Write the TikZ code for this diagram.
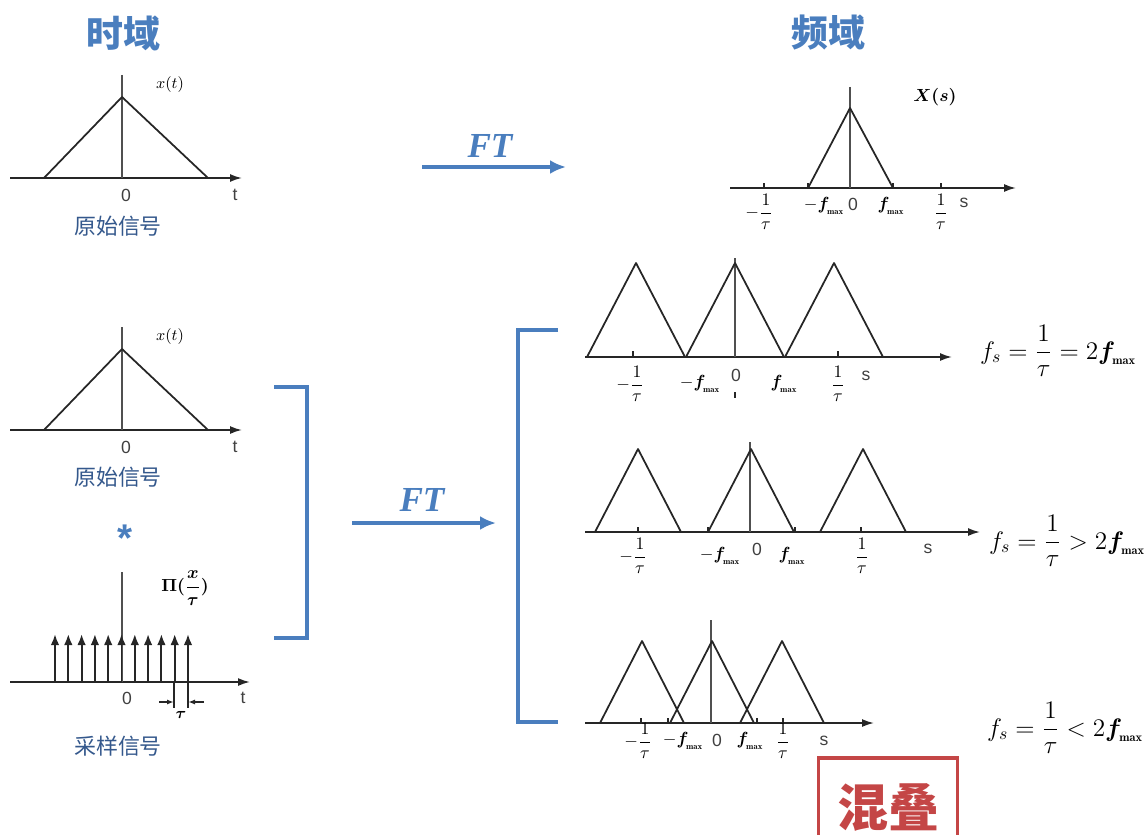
\documentclass[tikz,border=0pt]{standalone}
\usepackage{amsmath,amssymb}
\usepackage{fontspec}
\usepackage{xcolor}
\usepackage{tikz}
\usetikzlibrary{arrows.meta,positioning}
\newfontfamily\cjkfont{Noto Sans CJK SC}
\newfontfamily\axisfont{Liberation Sans}
\newfontfamily\ftfont{Liberation Serif}
\definecolor{sigblue}{RGB}{74,126,190}
\definecolor{sigcap}{RGB}{52,88,140}
\definecolor{sigred}{RGB}{196,70,70}
\definecolor{siggray}{RGB}{80,80,80}
\tikzset{
  plotaxis/.style={-{Latex[length=2.4mm,width=1.6mm]}, line width=1pt, draw=black!85},
  vaxis/.style={line width=0.9pt, draw=siggray},
  tri/.style={line width=1pt, draw=black!85, line join=round},
  tickmark/.style={line width=0.8pt, draw=black!85},
  spike/.style={-{Latex[length=2.2mm,width=1.7mm]}, line width=1.1pt, draw=black!85},
  ftarrow/.style={-{Latex[length=3.2mm,width=2.8mm]}, line width=2pt, draw=sigblue},
  bracket/.style={line width=2pt, draw=sigblue},
  title/.style={font=\cjkfont\bfseries\fontsize{21}{24}\selectfont, text=sigblue},
  caption/.style={font=\cjkfont\fontsize{12.5}{15}\selectfont, text=sigcap},
  ftlab/.style={font=\ftfont\bfseries\itshape\fontsize{20}{24}\selectfont, text=sigblue},
  ticklab/.style={font=\axisfont\fontsize{10}{12}\selectfont, text=black!75},
  mathlab/.style={font=\fontsize{9}{11}\selectfont},
  fraclab/.style={font=\fontsize{10}{12}\selectfont, inner sep=0pt},
  formula/.style={font=\fontsize{14}{16}\selectfont},
  aliasbox/.style={draw=sigred, line width=2pt, text=sigred, minimum width=27.8mm,
    minimum height=20mm, font=\cjkfont\bfseries\fontsize{29}{32}\selectfont},
}
\newcommand{\fmx}{\boldsymbol{f}_{\!\scriptscriptstyle\mathbf{max}}}

\begin{document}
\begin{tikzpicture}[x=0.2mm, y=-0.2mm]
  \useasboundingbox (0,0) rectangle (1148,834);

  % headings
  \node[title] (timehd) at (123,33) {时域};
  \node[title] (freqhd) at (828,33) {频域};

  % original signal, top
  \draw[plotaxis] (10,178) -- (242,178);
  \draw[vaxis] (122,75) -- (122,178);
  \draw[tri] (44,178) -- (122,97) -- (208,178);
  \node[mathlab] (xt1) at (170,85) {$x(t)$};
  \node[ticklab] (zero1) at (126,195) {0};
  \node[ticklab] (t1) at (235,195) {t};
  \node[caption] (cap1) at (118,226) {原始信号};

  % FT, top
  \coordinate (ftA) at (422,167);
  \coordinate (ftB) at (566,167);
  \draw[ftarrow] (ftA) -- (ftB);
  \node[ftlab] (ft1) at (490,146) {FT};

  % spectrum X(s)
  \draw[plotaxis] (730,188) -- (1016,188);
  \draw[vaxis] (850,87) -- (850,188);
  \draw[tri] (808,188) -- (850,108) -- (893,188);
  \foreach \x in {764,808,893,941} {
    \draw[tickmark] (\x,188) -- (\x,183);
  }
  \node[mathlab, font=\bfseries\fontsize{10}{12}\selectfont] (Xs) at (935,97) {$\boldsymbol{X(s)}$};
  \node[fraclab] (x0m) at (766,212) {\llap{$-$}$\dfrac{1}{\tau}$};
  \node[fraclab] (x0fm) at (824,206) {$-\fmx$};
  \node[ticklab] (zero0) at (853,204) {0};
  \node[fraclab] (x0fp) at (891,206) {$\fmx$};
  \node[fraclab] (x0p) at (941,212) {$\dfrac{1}{\tau}$};
  \node[ticklab] (s0) at (964,203) {s};

  % original signal, middle
  \draw[plotaxis] (10,430) -- (242,430);
  \draw[vaxis] (122,327) -- (122,430);
  \draw[tri] (44,430) -- (122,349) -- (208,430);
  \node[mathlab] (xt2) at (170,337) {$x(t)$};
  \node[ticklab] (zero2) at (126,447) {0};
  \node[ticklab] (t2) at (235,447) {t};
  \node[caption] (cap2) at (118,477) {原始信号};

  \node[font=\axisfont\bfseries\fontsize{22}{24}\selectfont, text=sigblue] (conv) at (125,538) {*};

  % sampling comb
  \draw[plotaxis] (10,682) -- (250,682);
  \draw[vaxis] (122,572) -- (122,682);
  \foreach \k in {0,...,10} {
    \draw[spike] ({55+13.3*\k},682) -- ({55+13.3*\k},634);
  }
  \draw[tickmark] (174,682) -- (174,708);
  \draw[tickmark] (188,682) -- (188,708);
  \draw[tickmark, -{Latex[length=1.4mm,width=1mm]}] (159,702) -- (174,702);
  \draw[tickmark, -{Latex[length=1.4mm,width=1mm]}] (204,702) -- (188,702);
  \node[mathlab] (tau) at (181,715) {$\boldsymbol{\tau}$};
  \node[mathlab, font=\fontsize{10}{12}\selectfont] (comb) at (185,588) {$\boldsymbol{\Pi(\dfrac{x}{\tau})}$};
  \node[ticklab] (zero3) at (127,698) {0};
  \node[ticklab] (t3) at (243,698) {t};
  \node[caption] (cap3) at (118,746) {采样信号};

  % bracket and FT, middle
  \draw[bracket] (274,387) -- (307,387) -- (307,638) -- (274,638);
  \coordinate (ftC) at (352,523);
  \coordinate (ftD) at (496,523);
  \draw[ftarrow] (ftC) -- (ftD);
  \node[ftlab] (ft2) at (422,500) {FT};
  \draw[bracket] (558,330) -- (518,330) -- (518,722) -- (558,722);

  % spectrum, fs = 2fmax
  \draw[plotaxis] (585,357) -- (952,357);
  \draw[vaxis] (735,258) -- (735,357);
  \foreach \c in {636,735,834} {
    \draw[tri] (\c-49,357) -- (\c,263) -- (\c+49,357);
  }
  \foreach \x in {633,838} {
    \draw[tickmark] (\x,357) -- (\x,351);
  }
  \node[fraclab] (a1m) at (637,384) {\llap{$-$}$\dfrac{1}{\tau}$};
  \node[fraclab] (a1fm) at (700,384) {$-\fmx$};
  \node[ticklab] (zeroa) at (736,375) {0};
  \draw[tickmark] (735,392) -- (735,398);
  \node[fraclab] (a1fp) at (784,384) {$\fmx$};
  \node[fraclab] (a1p) at (838,384) {$\dfrac{1}{\tau}$};
  \node[ticklab] (sa) at (866,376) {s};
  \node[formula] (fa) at (1058,351) {$f_s=\dfrac{1}{\tau}=2\fmx$};

  % spectrum, fs > 2fmax
  \draw[plotaxis] (585,532) -- (980,532);
  \draw[vaxis] (750,442) -- (750,532);
  \foreach \c in {638,751,863} {
    \draw[tri] (\c-43,532) -- (\c,449) -- (\c+43,532);
  }
  \foreach \x in {638,708,795,861} {
    \draw[tickmark] (\x,532) -- (\x,527);
  }
  \node[fraclab] (b1m) at (640,556) {\llap{$-$}$\dfrac{1}{\tau}$};
  \node[fraclab] (b1fm) at (720,556) {$-\fmx$};
  \node[ticklab] (zerob) at (757,549) {0};
  \node[fraclab] (b1fp) at (792,556) {$\fmx$};
  \node[fraclab] (b1p) at (862,556) {$\dfrac{1}{\tau}$};
  \node[ticklab] (sb) at (928,549) {s};
  \node[formula] (fb) at (1067,541) {$f_s=\dfrac{1}{\tau}>2\fmx$};

  % spectrum, fs < 2fmax
  \draw[plotaxis] (585,723) -- (874,723);
  \draw[vaxis] (711,620) -- (711,723);
  \foreach \c in {642,712,782} {
    \draw[tri] (\c-42,723) -- (\c,641) -- (\c+42,723);
  }
  \foreach \x in {641,668,757,783} {
    \draw[tickmark] (\x,723) -- (\x,718);
  }
  \node[fraclab] (c1m) at (645,741) {\llap{$-$}$\dfrac{1}{\tau}$};
  \node[fraclab] (c1fm) at (683,741) {$-\fmx$};
  \node[ticklab] (zeroc) at (717,740) {0};
  \node[fraclab] (c1fp) at (750,741) {$\fmx$};
  \node[fraclab] (c1p) at (783,741) {$\dfrac{1}{\tau}$};
  \node[ticklab] (sc) at (824,741) {s};
  \node[formula] (fc) at (1065,728) {$f_s=\dfrac{1}{\tau}<2\fmx$};

  % aliasing tag
  \node[aliasbox, anchor=north] (alias) at (888,756) {混叠};
\end{tikzpicture}
\end{document}
